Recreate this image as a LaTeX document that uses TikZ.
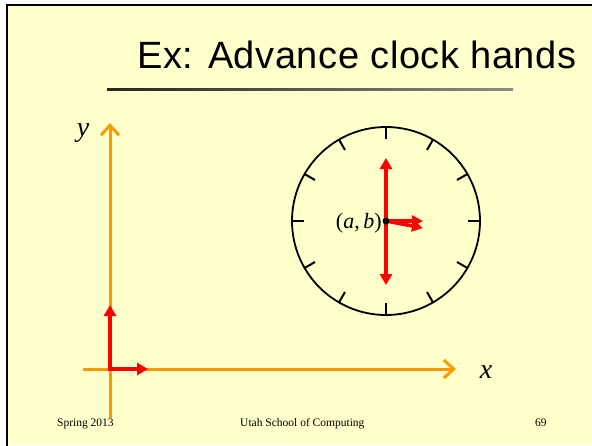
\documentclass[tikz,border=0pt]{standalone}
\usepackage{fontspec}
\setmainfont{Liberation Serif}
\newfontfamily\titlefont[LetterSpace=1.5]{Liberation Sans}
\usetikzlibrary{arrows.meta}
\definecolor{slidebg}{RGB}{255,255,204}
\definecolor{axisorange}{RGB}{255,153,0}
\definecolor{handred}{RGB}{255,0,0}

\begin{document}
\begin{tikzpicture}[x=1pt,y=-1pt,
axisline/.style={draw=axisorange, line width=3pt, -{Straight Barb[length=10pt,width=18pt]}},
handline/.style={draw=handred, line width=4pt},
clocktick/.style={line width=2pt},
footer/.style={anchor=base west, inner sep=0pt, font=\fontsize{11.5}{13}\selectfont},
axislabel/.style={inner sep=0pt, font=\fontsize{28}{32}\selectfont\itshape},]
\useasboundingbox (0,0) rectangle (592,445);
\fill[white] (0,0) rectangle (592,445);
\fill[slidebg] (7,5) rectangle (592,445);
\draw[line width=2.5pt] (7,450) -- (7,5) -- (600,5);

% footer
\node[footer] (season) at (57,426) {Spring 2013};
\node[footer] (school) at (240,426) {Utah School of Computing};
\node[footer] (page) at (535,426) {69};

% title
\node[anchor=base west, inner sep=0pt, font=\titlefont\fontsize{38}{44}\selectfont] (title) at (137,68) {Ex: Advance clock hands};
\shade[left color=black!85, right color=black!45] (107,88) rectangle (513,90);

% axes
\coordinate (O) at (110,369);
\coordinate (ybot) at (110,418);
\coordinate (ytop) at (110,123);
\coordinate (xleft) at (83,369);
\coordinate (xright) at (456,369);
\draw[axisline] (ybot) -- (ytop);
\draw[axisline] (xleft) -- (xright);
\node[axislabel] (ylab) at (83,133) {y};
\node[axislabel] (xlab) at (486,372) {x};

% unit vectors
\coordinate (ex) at (148,369);
\coordinate (ey) at (110,305);
\draw[handline, line join=miter, {Triangle[length=11pt,width=12pt]}-{Triangle[length=11pt,width=12pt]}] (ey) -- (O) -- (ex);

% clock
\coordinate (C) at (386,221);
\draw[line width=1.8pt] (C) circle[radius=94pt];
\foreach \a in {0,30,...,330}
  \draw[clocktick] ([shift={(\a:82)}]C) -- ([shift={(\a:94)}]C);
\coordinate (hup) at (386,158);
\coordinate (hdown) at (386,285);
\coordinate (hthree) at (423,221);
\coordinate (hsec) at (423,228);
\draw[handline, -{Triangle[length=11pt,width=12pt]}] (C) -- (hup);
\draw[handline, -{Triangle[length=11pt,width=12pt]}] (C) -- (hdown);
\draw[handline, line width=3.5pt, -{Triangle[length=11pt,width=11pt]}] (C) -- (hthree);
\draw[handline, line width=3.5pt, -{Triangle[length=11pt,width=11pt]}] (C) -- (hsec);
\fill (C) circle[radius=3.5pt];
\node[anchor=east, inner sep=0pt, font=\fontsize{22}{26}\selectfont] (ab) at (382,223) {(\textit{a},\,\textit{b})};
\end{tikzpicture}
\end{document}
